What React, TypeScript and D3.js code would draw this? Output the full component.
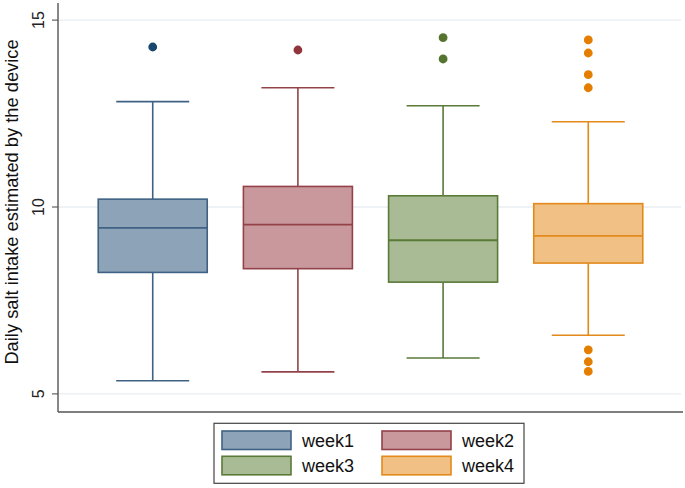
import React from "react";
import * as d3 from "d3";

const categories = ["week1", "week2", "week3", "week4"];
const q1 = [8.25, 8.35, 7.99, 8.5];
const medians = [9.44, 9.53, 9.11, 9.23];
const q3 = [10.21, 10.55, 10.3, 10.09];
const whiskerLow = [5.35, 5.59, 5.96, 6.57];
const whiskerHigh = [12.82, 13.19, 12.71, 12.28];
const outliers: number[][] = [
  [14.28],
  [14.2],
  [14.53, 13.96],
  [14.47, 14.12, 13.54, 13.19, 6.18, 5.86, 5.6],
];
const yTicks = [5, 10, 15];
const fills = ["#8ca3b8", "#c9989d", "#a9bb94", "#f0c084"];
const strokes = ["#3f6284", "#93424a", "#5a7a38", "#e38a1c"];
const dots = ["#1a476f", "#90353b", "#55752f", "#e37e00"];

export default function App() {
  const W = 685,
    H = 488;
  const left = 58,
    right = 681,
    bottom = 412;
  const y = d3.scaleLinear().domain([5, 15]).range([393.9, 20.1]);
  const x = d3
    .scaleBand()
    .domain(categories)
    .range([80.5, 660.5])
    .paddingInner(0.245)
    .paddingOuter(0.12);
  const bw = 109;
  const capW = 73;
  const font = "'Liberation Sans', Arial, Helvetica, sans-serif";
  return (
    <svg
      width={W}
      height={H}
      style={{ position: "absolute", left: 0, top: 0, background: "#fff" }}
      fontFamily={font}
    >
      {yTicks.map((t) => (
        <g key={t}>
          <line x1={left} x2={right} y1={y(t)} y2={y(t)} stroke="#eaeef2" strokeWidth={1.3} />
          <line x1={left - 6} x2={left} y1={y(t)} y2={y(t)} stroke="#444" strokeWidth={1} />
          <text
            transform={`translate(${left - 14},${y(t)}) rotate(-90)`}
            textAnchor="middle"
            fontSize={16}
            fill="#222"
          >
            {t}
          </text>
        </g>
      ))}
      <line x1={left} x2={left} y1={3} y2={bottom} stroke="#555" strokeWidth={1.4} />
      <line x1={left} x2={683} y1={bottom} y2={bottom} stroke="#555" strokeWidth={1.6} />
      <text
        transform={`translate(17.5,202) rotate(-90)`}
        textAnchor="middle"
        fontSize={18.3}
        fill="#111"
      >
        Daily salt intake estimated by the device
      </text>
      {categories.map((c, i) => {
        const cx = (x(c) as number) + x.bandwidth() / 2;
        return (
          <g key={c}>
            <line x1={cx} x2={cx} y1={y(whiskerHigh[i])} y2={y(q3[i])} stroke={strokes[i]} strokeWidth={1.6} />
            <line x1={cx} x2={cx} y1={y(q1[i])} y2={y(whiskerLow[i])} stroke={strokes[i]} strokeWidth={1.6} />
            <line x1={cx - capW / 2} x2={cx + capW / 2} y1={y(whiskerHigh[i])} y2={y(whiskerHigh[i])} stroke={strokes[i]} strokeWidth={1.6} />
            <line x1={cx - capW / 2} x2={cx + capW / 2} y1={y(whiskerLow[i])} y2={y(whiskerLow[i])} stroke={strokes[i]} strokeWidth={1.6} />
            <rect
              x={cx - bw / 2}
              width={bw}
              y={y(q3[i])}
              height={y(q1[i]) - y(q3[i])}
              fill={fills[i]}
              stroke={strokes[i]}
              strokeWidth={1.6}
            />
            <line x1={cx - bw / 2} x2={cx + bw / 2} y1={y(medians[i])} y2={y(medians[i])} stroke={strokes[i]} strokeWidth={1.8} />
            {outliers[i].map((v, j) => (
              <circle key={j} cx={cx} cy={y(v)} r={4.4} fill={dots[i]} />
            ))}
          </g>
        );
      })}
      <rect x={214} y={423.3} width={310} height={60} fill="#fff" stroke="#444" strokeWidth={1.2} />
      {categories.map((c, i) => {
        const col = i % 2;
        const row = Math.floor(i / 2);
        const sx = 222 + col * 160;
        const sy = 431 + row * 25.3;
        return (
          <g key={c}>
            <rect x={sx} y={sy} width={69} height={18.5} fill={fills[i]} stroke={strokes[i]} strokeWidth={1.6} />
            <text x={sx + 80} y={sy + 15.5} fontSize={18} fill="#111">
              {c}
            </text>
          </g>
        );
      })}
    </svg>
  );
}
